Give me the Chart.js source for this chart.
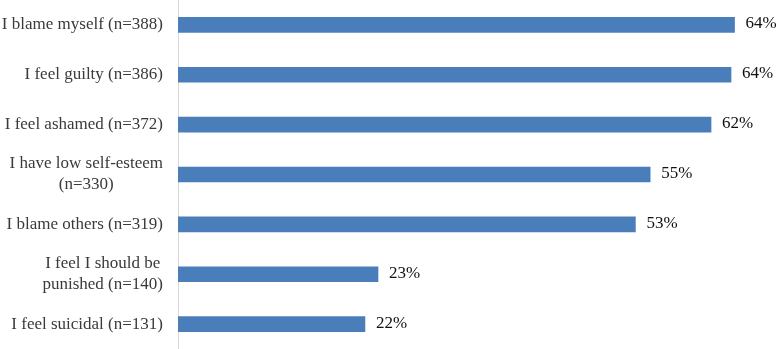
<!DOCTYPE html>
<html>
<head>
<meta charset="utf-8">
<script src="https://cdn.jsdelivr.net/npm/chart.js@4/dist/chart.umd.min.js"></script>
<style>
	html, body { margin: 0; padding: 0; background: #fff; }
	canvas { display: block; }
</style>
</head>
<body>
<canvas id="shameChart" width="778" height="349"></canvas>
<script>
	const categories = [
		['I blame myself (n=388)'],
		['I feel guilty (n=386)'],
		['I feel ashamed (n=372)'],
		['I have low self-esteem', '(n=330)'],
		['I blame others (n=319)'],
		['I feel I should be', 'punished (n=140)'],
		['I feel suicidal (n=131)']
	];
	const shareValues = [64.0, 63.6, 61.3, 54.3, 52.6, 23.0, 21.5];
	const shareLabels = ['64%', '64%', '62%', '55%', '53%', '23%', '22%'];

	const fontFamily = '"Liberation Serif", "Times New Roman", serif';

	const labelPlugin = {
		id: 'labelPlugin',
		afterDatasetsDraw(chart) {
			const ctx = chart.ctx;
			const yScale = chart.scales.y;
			const meta = chart.getDatasetMeta(0);
			ctx.save();
			ctx.font = '17px ' + fontFamily;
			ctx.textBaseline = 'middle';

			// value labels at the end of each bar
			ctx.fillStyle = '#111';
			ctx.textAlign = 'left';
			meta.data.forEach(function(bar, index) {
				ctx.fillText(shareLabels[index], bar.x + 11, bar.y - 1);
			});

			// category labels: block right-aligned, lines centred
			ctx.fillStyle = '#3a3a3a';
			ctx.textAlign = 'center';
			const lineHeight = 21;
			categories.forEach(function(lines, index) {
				const y = yScale.getPixelForValue(index);
				const widest = Math.max(...lines.map((line) => ctx.measureText(line).width));
				const cx = yScale.right - 15 - widest / 2;
				const startY = y - (lines.length - 1) * lineHeight / 2;
				lines.forEach(function(line, i) {
					ctx.fillText(line, cx, startY + i * lineHeight);
				});
			});
			ctx.restore();
		}
	};

	new Chart(document.getElementById('shameChart'), {
		type: 'bar',
		data: {
			labels: categories,
			datasets: [{
				data: shareValues,
				backgroundColor: '#4a7ebb',
				borderWidth: 0,
				barThickness: 15
			}]
		},
		options: {
			indexAxis: 'y',
			responsive: false,
			animation: false,
			layout: { padding: 0 },
			plugins: {
				legend: { display: false },
				tooltip: { enabled: false }
			},
			scales: {
				x: {
					display: false,
					min: 0,
					max: 69
				},
				y: {
					afterFit: function(scale) {
						scale.width = 178;
					},
					ticks: { display: false },
					grid: { display: false },
					border: { display: true, color: '#d9d9d9', width: 1 }
				}
			}
		},
		plugins: [labelPlugin]
	});
</script>
</body>
</html>
